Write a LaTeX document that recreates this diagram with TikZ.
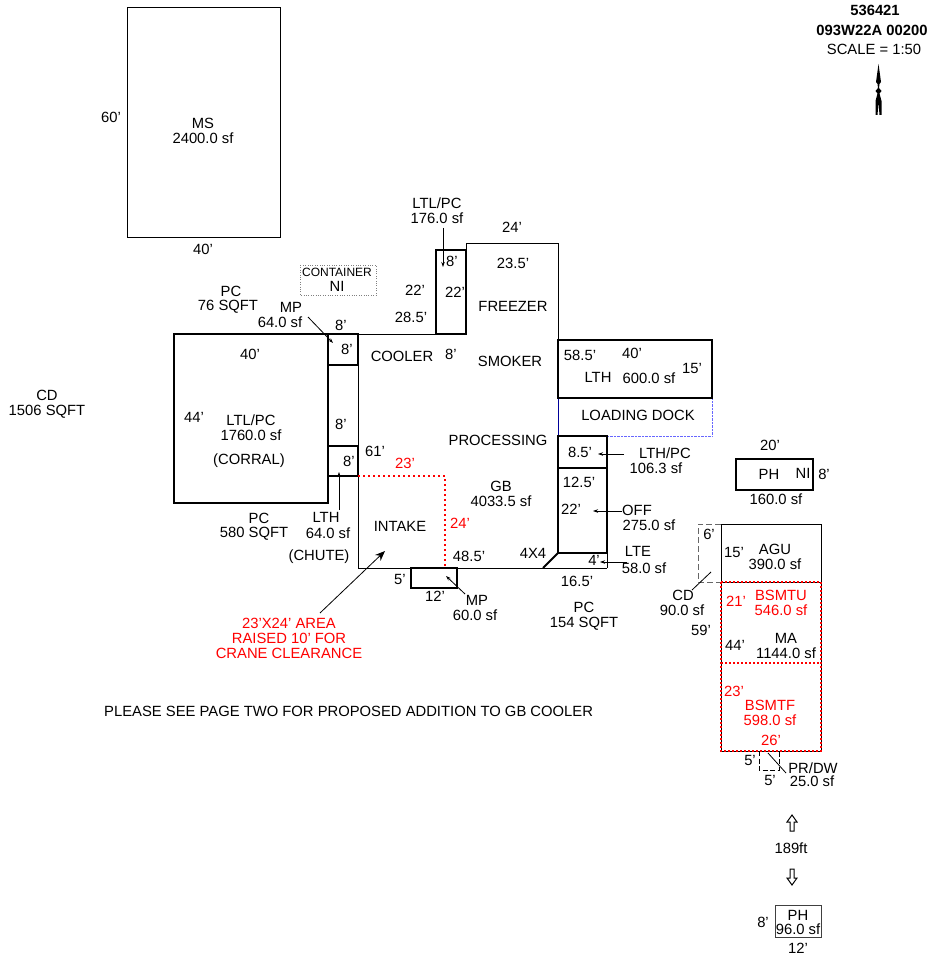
\documentclass[tikz,border=0pt]{standalone}
\usepackage{fontspec}
\setmainfont{Liberation Sans}
\usetikzlibrary{arrows.meta}
\definecolor{redline}{RGB}{255,0,0}
\tikzset{
lbl/.style={inner sep=0pt,yshift=-.7pt,align=center,font=\fontsize{14.8}{15}\selectfont},
redlbl/.style={lbl,text=redline},
wall/.style={draw=black,line width=1pt},
heavy/.style={draw=black,line width=2pt},
lead/.style={-{Stealth[length=5pt,width=3.5pt]},line width=.8pt},
reddash/.style={redline,line width=1.2pt,dash pattern=on 2pt off 2pt}
}
\begin{document}
\begin{tikzpicture}[x=1pt,y=-1pt]
\useasboundingbox (0,0) rectangle (928,957);
%Title
\node[lbl,font=\fontsize{14.8}{15}\bfseries] (job) at (875,10) {536421};
\node[lbl,font=\fontsize{14.8}{15}\bfseries] (plan) at (872,30) {093W22A 00200};
\node[lbl] (scale) at (874,49) {SCALE = 1:50};
%North arrow
\fill (878.5,64) -- (881,82) -- (879.5,84) -- (879,88) -- (881.5,91) -- (879.5,93.5) -- (881.5,101) -- (881.5,115) -- (879.5,115) -- (878.5,102) -- (877.5,115) -- (875.5,115) -- (875.5,101) -- (877.5,93.5) -- (875.5,91) -- (878,88) -- (877.5,84) -- (876,82) -- cycle;
%MS
\draw[wall] (127,8) rectangle (280,238);
\node[lbl] (msdim) at (111,117) {60'};
\node[lbl] (ms) at (203,130) {MS\\2400.0 sf};
\node[lbl] (mswidth) at (203,249) {40'};
%CD and PC sheds
\node[lbl] (cdlot) at (47,404) {CD\\1506 SQFT};
\node[lbl] (pcsmall) at (231,291) {PC};
\node[lbl] (pcsmallarea) at (228,306) {76 SQFT};
\node[lbl] (pclarge) at (259,518) {PC};
\node[lbl] (pclargearea) at (254,533) {580 SQFT};
\node[lbl] (pcdock) at (584,616) {PC\\154 SQFT};
%Container
\draw[draw=gray,dotted] (300,265) rectangle (376,295);
\node[lbl,font=\fontsize{12}{13}\selectfont] (container) at (337,272) {CONTAINER};
\node[lbl] (containerni) at (337,286) {NI};
%Corral
\draw[heavy] (174,334) rectangle (328,503);
\node[lbl] (corraldim) at (250,354) {40'};
\node[lbl] (corralside) at (194,417) {44'};
\node[lbl] (corral) at (251,427) {LTL/PC\\1760.0 sf};
\node[lbl] (corralname) at (249,460) {(CORRAL)};
%Chute
\draw[wall] (328,365) -- (328,446);
\draw[heavy] (328,334) rectangle (358,365);
\draw[heavy] (328,446) rectangle (358,476);
\node[lbl] (mpname) at (291,307) {MP};
\node[lbl] (mparea) at (280,322) {64.0 sf};
\coordinate (mpfrom) at (308,317);
\coordinate (mpto) at (333,343);
\draw[lead] (mpfrom) -- (mpto);
\node[lbl] (mptop) at (341,325) {8'};
\node[lbl] (mpside) at (347,349) {8'};
\node[lbl] (chutedim) at (341,424) {8'};
\node[lbl] (lthside) at (349,461) {8'};
\node[lbl] (lthname) at (326,517) {LTH};
\node[lbl] (ltharea) at (328,533) {64.0 sf};
\node[lbl] (chute) at (319,556) {(CHUTE)};
\coordinate (lthfrom) at (339,510);
\coordinate (lthto) at (339,472);
\draw[lead] (lthfrom) -- (lthto);
%GB
\draw[wall] (358,334) -- (436,334);
\draw[wall] (358,334) -- (358,568) -- (607,568);
\draw[wall] (466,250) -- (466,244) -- (558,244) -- (558,340);
\draw[heavy,line width=1.6pt] (436,250) rectangle (466,334);
\node[lbl] (ltlname) at (437,210) {LTL/PC\\176.0 sf};
\coordinate (ltlfrom) at (443,228);
\coordinate (ltlto) at (443,267);
\draw[lead] (ltlfrom) -- (ltlto);
\node[lbl] (ltltop) at (452,261) {8'};
\node[lbl] (ltlleft) at (415,290) {22'};
\node[lbl] (ltlright) at (455,292) {22'};
\node[lbl] (gbside) at (411,317) {28.5'};
\node[lbl] (freezertop) at (512,227) {24'};
\node[lbl] (freezerdim) at (513,263) {23.5'};
\node[lbl] (freezer) at (513,306) {FREEZER};
\node[lbl] (cooler) at (402,356) {COOLER};
\node[lbl] (coolerdim) at (451,354) {8'};
\node[lbl] (smoker) at (510,361) {SMOKER};
\node[lbl] (processing) at (498,440) {PROCESSING};
\node[lbl] (gb) at (501,493) {GB\\4033.5 sf};
\node[lbl] (gbleft) at (375,451) {61'};
\node[lbl] (intake) at (400,526) {INTAKE};
\node[lbl] (gbbottom) at (469,556) {48.5'};
\node[lbl] (fourbyfour) at (533,553) {4X4};
%Raised area
\draw[redline,line width=2pt,dash pattern=on 2pt off 3pt] (358,476) -- (445,476) -- (445,568);
\node[redlbl] (raisedtop) at (405,463) {23'};
\node[redlbl] (raisedside) at (460,523) {24'};
\node[redlbl] (raised) at (289,638) {23'X24' AREA\\RAISED 10' FOR\\CRANE CLEARANCE};
\coordinate (raisedfrom) at (320,613);
\coordinate (raisedto) at (385,551);
\draw[-{Stealth[length=10pt,width=8pt]},line width=.8pt] (raisedfrom) -- (raisedto);
%Entry MP
\draw[heavy,line width=1.6pt] (411,568) rectangle (457,588);
\node[lbl] (entryside) at (400,579) {5'};
\node[lbl] (entrydim) at (435,596) {12'};
\node[lbl] (entryname) at (477,600) {MP};
\node[lbl] (entryarea) at (475,615) {60.0 sf};
\coordinate (entryfrom) at (465,594);
\coordinate (entryto) at (446,576);
\draw[lead] (entryfrom) -- (entryto);
%LTH and dock
\draw[blue!60!black,line width=.7pt] (558,398) -- (558,436);
\draw[blue!60!white,densely dotted] (712,398) -- (712,436) -- (558,436);
\draw[heavy] (558,340) rectangle (712,398);
\node[lbl] (lthdim) at (580,355) {58.5'};
\node[lbl] (lthtop) at (632,353) {40'};
\node[lbl] (lthright) at (692,368) {15'};
\node[lbl] (lth) at (598,377) {LTH};
\node[lbl] (lthsf) at (649,378) {600.0 sf};
\node[lbl] (dock) at (638,415) {LOADING DOCK};
%Office row
\draw[heavy] (558,436) rectangle (607,468);
\draw[heavy] (558,468) rectangle (607,553);
\draw[wall] (607,553) -- (607,568);
\draw[heavy] (543,568) -- (558,553);
\node[lbl] (lthpcdim) at (580,452) {8.5'};
\node[lbl] (lthpcname) at (665,453) {LTH/PC};
\node[lbl] (lthpcarea) at (656,468) {106.3 sf};
\coordinate (lthpcfrom) at (624,454);
\coordinate (lthpcto) at (598,454);
\draw[lead] (lthpcfrom) -- (lthpcto);
\node[lbl] (offtop) at (579,482) {12.5'};
\node[lbl] (offside) at (571,509) {22'};
\node[lbl] (offname) at (637,510) {OFF};
\node[lbl] (offarea) at (649,525) {275.0 sf};
\coordinate (offfrom) at (622,511);
\coordinate (offto) at (593,511);
\draw[lead] (offfrom) -- (offto);
\node[lbl] (lteside) at (594,560) {4'};
\node[lbl] (ltename) at (638,551) {LTE};
\node[lbl] (ltearea) at (644,568) {58.0 sf};
\coordinate (ltefrom) at (627,562);
\coordinate (lteto) at (600,562);
\draw[lead] (ltefrom) -- (lteto);
\node[lbl] (ltebottom) at (577,581) {16.5'};
%PH near
\draw[heavy,line width=1.6pt] (736,459) rectangle (813,490);
\node[lbl] (phtop) at (770,445) {20'};
\node[lbl] (ph) at (769,474) {PH};
\node[lbl] (phni) at (803,473) {NI};
\node[lbl] (phside) at (824,474) {8'};
\node[lbl] (pharea) at (776,499) {160.0 sf};
%AGU
\draw[wall] (721,524) rectangle (821,582);
\draw[draw=black!60,line width=1pt,dash pattern=on 6pt off 3pt] (721,524) -- (698,524) -- (698,582) -- (721,582);
\node[lbl] (cdtop) at (709,534) {6'};
\node[lbl] (agudim) at (734,552) {15'};
\node[lbl] (agu) at (775,556) {AGU\\390.0 sf};
\node[lbl] (cdname) at (683,595) {CD};
\node[lbl] (cdarea) at (682,610) {90.0 sf};
\coordinate (cdfrom) at (692,590);
\coordinate (cdto) at (711,572);
\draw[line width=.8pt] (cdfrom) -- (cdto);
%MA
\draw[wall] (721,582) rectangle (821,751);
\draw[reddash] (721,582) rectangle (821,751);
\draw[reddash] (721,663) -- (821,663);
\node[lbl] (madim) at (701,630) {59'};
\node[redlbl] (bsmtudim) at (736,601) {21'};
\node[redlbl] (bsmtu) at (781,602) {BSMTU\\546.0 sf};
\node[lbl] (maside) at (735,645) {44'};
\node[lbl] (ma) at (786,645) {MA\\1144.0 sf};
\node[redlbl] (bsmtfdim) at (734,691) {23'};
\node[redlbl] (bsmtf) at (770,712) {BSMTF\\598.0 sf};
\node[redlbl] (bsmtfwide) at (771,740) {26'};
%PR/DW
\draw[line width=.9pt,dash pattern=on 5pt off 2.5pt] (759,751) -- (759,770) -- (779,770) -- (779,751);
\node[lbl] (prside) at (750,760) {5'};
\node[lbl] (prbottom) at (770,780) {5'};
\node[lbl] (prname) at (813,768) {PR/DW};
\node[lbl] (prarea) at (812,781) {25.0 sf};
\coordinate (prfrom) at (786,773);
\coordinate (prto) at (768,753);
\draw[line width=.8pt] (prfrom) -- (prto);
%PH far
\draw[draw=black,line width=1pt] (792,815) -- (797,822) -- (794,822) -- (794,831) -- (790,831) -- (790,822) -- (787,822) -- cycle;
\node[lbl] (distance) at (791,848) {189ft};
\draw[draw=black,line width=1pt] (792,885) -- (797,878) -- (794,878) -- (794,869) -- (790,869) -- (790,878) -- (787,878) -- cycle;
\draw[draw=black!75,line width=1pt] (775,905) rectangle (821,937);
\node[lbl] (farph) at (798,915) {PH};
\node[lbl] (fararea) at (798,928.5) {96.0 sf};
\node[lbl] (farside) at (763,922) {8'};
\node[lbl] (farbottom) at (798,948) {12'};
%Note
\node[lbl,anchor=west] (note) at (104,711) {PLEASE SEE PAGE TWO FOR PROPOSED ADDITION TO GB COOLER};
\end{tikzpicture}
\end{document}
